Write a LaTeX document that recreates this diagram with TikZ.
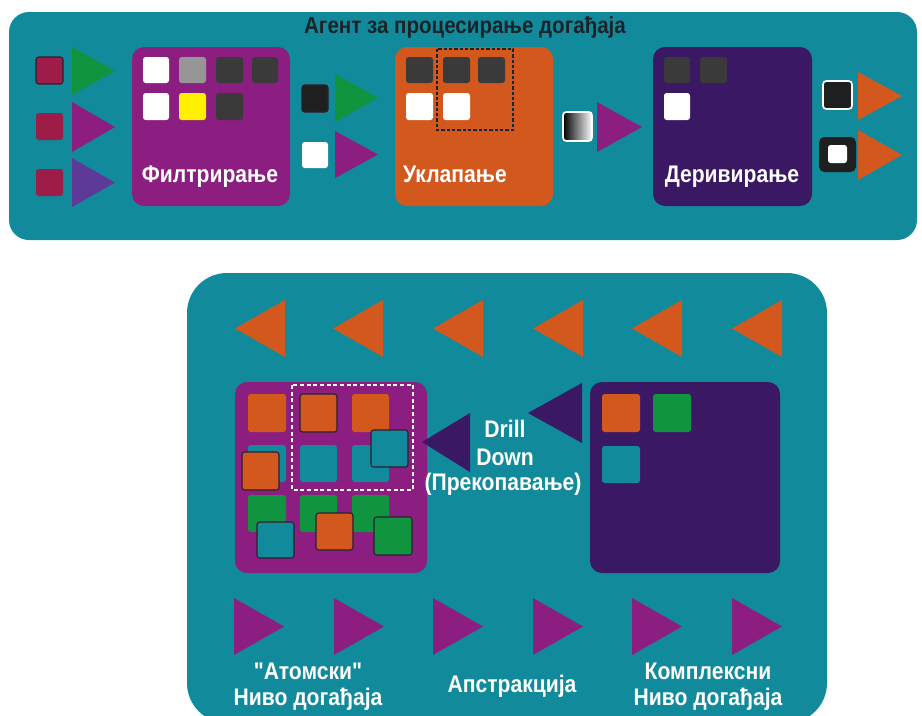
\documentclass[tikz,border=0pt]{standalone}
\usepackage{fontspec}
\setmainfont{Liberation Sans}
\newfontfamily\cnd{Liberation Sans}[FakeStretch=0.88]
\definecolor{tealbg}{RGB}{17,138,156}
\definecolor{purp}{RGB}{139,30,128}
\definecolor{orng}{RGB}{211,88,30}
\definecolor{dpurp}{RGB}{58,24,100}
\definecolor{maroon}{RGB}{158,29,72}
\definecolor{grn}{RGB}{16,148,64}
\definecolor{bpurp}{RGB}{94,58,152}
\definecolor{dgray}{RGB}{58,58,58}
\definecolor{mgray}{RGB}{150,150,150}
\definecolor{yel}{RGB}{255,240,0}
\definecolor{titlec}{RGB}{25,35,40}
\definecolor{edgec}{RGB}{45,30,45}
\tikzset{
  panel/.style={fill=tealbg},
  bigbox/.style={rounded corners=9pt},
  sq/.style={rounded corners=2pt},
  sqe/.style={rounded corners=2pt, draw=edgec, line width=0.8pt},
  lbl/.style={text=white, font=\fontsize{18}{20}\selectfont\bfseries\cnd, inner sep=0pt},
  ttl/.style={text=titlec, font=\fontsize{17.5}{20}\selectfont\bfseries\cnd, inner sep=0pt}
}
\begin{document}
\begin{tikzpicture}[x=0.75pt,y=-0.75pt]
\useasboundingbox (0,0) rectangle (922,715);
% ---------- top panel ----------
\fill[panel, rounded corners=15pt] (9,12) rectangle (917,240);
\node[ttl, anchor=base] (title) at (465,33) {Агент за процесирање догађаја};
% left inputs
\filldraw[sqe, fill=maroon] (36,57) rectangle (63,84);
\fill[sq, maroon] (36,113) rectangle (63,140);
\fill[sq, maroon] (36,169) rectangle (63,196);
\fill[grn] (72,47) -- (115,71) -- (72,95) -- cycle;
\fill[purp] (72,102) -- (115,127) -- (72,152) -- cycle;
\fill[bpurp] (72,158) -- (115,182.5) -- (72,207) -- cycle;
% filtering
\fill[bigbox, purp] (132,47) rectangle (290,206);
\fill[sq, white] (143,57) rectangle (169,83);
\fill[sq, mgray] (179,57) rectangle (206,83);
\fill[sq, dgray] (216,57) rectangle (243,83);
\fill[sq, dgray] (252,57) rectangle (278,83);
\fill[sq, white] (143,93) rectangle (169,120);
\fill[sq, yel] (179,93) rectangle (206,120);
\fill[sq, dgray] (216,93) rectangle (243,120);
\node[lbl, anchor=base] (filt) at (210,182) {Филтрирање};
% between 1
\filldraw[sqe, fill=black!88] (302,85) rectangle (328,112);
\fill[grn] (335,74) -- (378,98) -- (335,122) -- cycle;
\fill[sq, white] (302,142) rectangle (328,168);
\fill[purp] (335,131) -- (378,154.5) -- (335,178) -- cycle;
% matching
\fill[bigbox, orng] (395,47) rectangle (553,206);
\fill[sq, dgray] (406,57) rectangle (433,83);
\fill[sq, dgray] (443,57) rectangle (470,83);
\fill[sq, dgray] (478,57) rectangle (505,83);
\fill[sq, white] (406,93) rectangle (433,120);
\fill[sq, white] (443,93) rectangle (470,120);
\draw[titlec, line width=1.4pt, dash pattern=on 2.5pt off 1.5pt] (437,49) rectangle (513,130);
\node[lbl, anchor=base] (match) at (455,182) {Уклапање};
% between 2
\shade[sq, left color=black, right color=white] (563,112) rectangle (592,141);
\draw[rounded corners=2.5pt, white, line width=1.3pt] (563,112) rectangle (592,141);
\fill[purp] (597,102) -- (642,127) -- (597,152) -- cycle;
% deriving
\fill[bigbox, dpurp] (653,47) rectangle (812,206);
\fill[sq, dgray] (664,57) rectangle (690,83);
\fill[sq, dgray] (700,57) rectangle (727,83);
\fill[sq, white] (664,93) rectangle (690,120);
\node[lbl, anchor=base] (deriv) at (732,182) {Деривирање};
% outputs
\filldraw[rounded corners=2.5pt, fill=black!88, draw=white, line width=1.3pt] (823,81) rectangle (852,109);
\fill[orng] (858,72) -- (902,96) -- (858,120) -- cycle;
\fill[rounded corners=4pt, black!88] (819,137) rectangle (856,172);
\fill[sq, white] (828,145) rectangle (847,163);
\fill[orng] (858,130) -- (902,155) -- (858,180) -- cycle;
% ---------- bottom panel ----------
\begin{scope}
\clip (0,0) rectangle (922,715);
\fill[panel, rounded corners=30pt] (187,273) rectangle (827,723);
\end{scope}
\foreach \t in {235,333,433,533,632,732}{
  \fill[orng] (\t,328.5) -- (\t+50,300) -- (\t+50,357) -- cycle;
}
% left atomic box
\fill[bigbox, purp] (235,382) rectangle (427,573);
\fill[sq, orng] (248,394) rectangle (286,432);
\filldraw[sqe, fill=orng] (300,394) rectangle (337,432);
\fill[sq, orng] (352,394) rectangle (389,432);
\fill[sq, tealbg] (248,445) rectangle (286,482);
\fill[sq, tealbg] (300,445) rectangle (337,482);
\fill[sq, tealbg] (352,445) rectangle (389,482);
\fill[sq, grn] (248,495) rectangle (286,532);
\fill[sq, grn] (300,495) rectangle (337,532);
\fill[sq, grn] (352,495) rectangle (389,532);
\filldraw[sqe, fill=orng] (242,452) rectangle (279,490);
\filldraw[sqe, fill=tealbg] (371,430) rectangle (408,467);
\filldraw[sqe, fill=tealbg] (257,522) rectangle (294,558);
\filldraw[sqe, fill=orng] (316,513) rectangle (353,550);
\filldraw[sqe, fill=grn] (374,517) rectangle (412,555);
\draw[white, line width=1.4pt, dash pattern=on 3pt off 2pt] (292,385) rectangle (413,490);
% drill down
\fill[dpurp] (470,413) -- (422,442) -- (470,472) -- cycle;
\fill[dpurp] (582,383) -- (528,413) -- (582,443) -- cycle;
\node[lbl, anchor=base] (drill1) at (505,437) {Drill};
\node[lbl, anchor=base] (drill2) at (505,465) {Down};
\node[lbl, anchor=base] (drill3) at (503,490) {(Прекопавање)};
% complex box
\fill[bigbox, dpurp] (590,382) rectangle (780,573);
\fill[sq, orng] (602,394) rectangle (640,432);
\fill[sq, grn] (653,394) rectangle (691,432);
\fill[sq, tealbg] (602,446) rectangle (640,483);
% bottom arrows
\foreach \t in {234,334,433,533,632,732}{
  \fill[purp] (\t,598) -- (\t+50,626.5) -- (\t,655) -- cycle;
}
\node[lbl, anchor=base] (atom1) at (308,679) {"Атомски"};
\node[lbl, anchor=base] (atom2) at (308,705) {Ниво догађаја};
\node[lbl, anchor=base] (abstr) at (512,692) {Апстракција};
\node[lbl, anchor=base] (compl1) at (708,679) {Комплексни};
\node[lbl, anchor=base] (compl2) at (708,705) {Ниво догађаја};
\end{tikzpicture}
\end{document}
